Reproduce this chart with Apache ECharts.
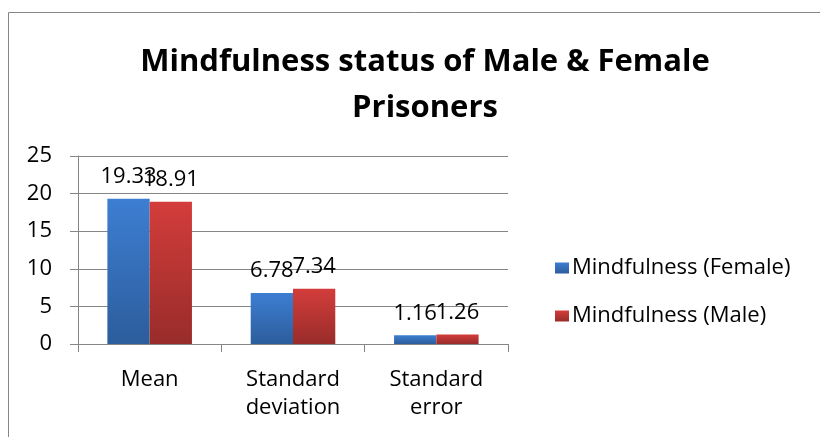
<!DOCTYPE html>
<html>
<head>
<meta charset="utf-8">
<script src="https://cdn.jsdelivr.net/npm/echarts@6/dist/echarts.min.js"></script>
<style>
  html, body { margin: 0; padding: 0; background: #fff; }
  #chart { width: 820px; height: 437px; }
</style>
</head>
<body>
<div id="chart"></div>
<script>
const categories = ['Mean', 'Standard\ndeviation', 'Standard\nerror'];
const femaleValues = [19.33, 6.78, 1.16];
const maleValues = [18.91, 7.34, 1.26];
const seriesNames = ['Mindfulness (Female)', 'Mindfulness (Male)'];
const yTicks = { min: 0, max: 25, interval: 5 };

const font = 'Open Sans';
const axisGray = '#868686';

function grad(top, bottom) {
  return new echarts.graphic.LinearGradient(0, 0, 0, 1, [
    { offset: 0, color: top },
    { offset: 1, color: bottom },
  ]);
}

const blue = grad('#3d7ed2', '#2c5d9c');
const red = grad('#d33d3b', '#982c2a');

const chart = echarts.init(document.getElementById('chart'));

chart.setOption({
  backgroundColor: '#fff',
  animation: false,
  textStyle: { fontFamily: font },
  graphic: [
    {
      type: 'rect',
      shape: { x: 8.5, y: 12.5, width: 830, height: 440 },
      style: { fill: 'none', stroke: axisGray, lineWidth: 1 },
      silent: true,
    },
  ],
  title: {
    text: 'Mindfulness status of Male & Female\nPrisoners',
    left: 420,
    textAlign: 'center',
    top: 34,
    textStyle: { fontFamily: font, fontWeight: 'bold', fontSize: 31, lineHeight: 46, color: '#000' },
  },
  legend: {
    orient: 'vertical',
    left: 550,
    top: 251,
    itemWidth: 14,
    itemHeight: 11,
    itemGap: 24,
    icon: 'rect',
    textStyle: { fontFamily: font, fontSize: 22, lineHeight: 24, color: '#000', padding: [0, 0, 0, -2] },
    data: [
      { name: seriesNames[0], itemStyle: { color: blue } },
      { name: seriesNames[1], itemStyle: { color: red } },
    ],
  },
  grid: { left: 78, right: 312, top: 156, bottom: 93 },
  xAxis: {
    type: 'category',
    data: categories,
    axisLine: { lineStyle: { color: axisGray } },
    axisTick: { show: true, length: 8, lineStyle: { color: axisGray } },
    axisLabel: { color: '#000', fontSize: 22, lineHeight: 28, margin: 22 },
  },
  yAxis: {
    type: 'value',
    min: yTicks.min,
    max: yTicks.max,
    interval: yTicks.interval,
    axisLine: { show: true, lineStyle: { color: axisGray } },
    axisTick: { show: true, length: 8, lineStyle: { color: axisGray } },
    axisLabel: { color: '#000', fontSize: 22, margin: 26 },
    splitLine: { lineStyle: { color: axisGray } },
  },
  series: [
    {
      name: seriesNames[0],
      type: 'bar',
      data: femaleValues,
      barGap: '0%',
      barCategoryGap: '41%',
      itemStyle: { color: blue },
      label: { show: true, position: 'top', color: '#000', fontSize: 22, distance: 11 },
    },
    {
      name: seriesNames[1],
      type: 'bar',
      data: maleValues,
      itemStyle: { color: red },
      label: { show: true, position: 'top', color: '#000', fontSize: 22, distance: 11 },
    },
  ],
});
</script>
</body>
</html>
